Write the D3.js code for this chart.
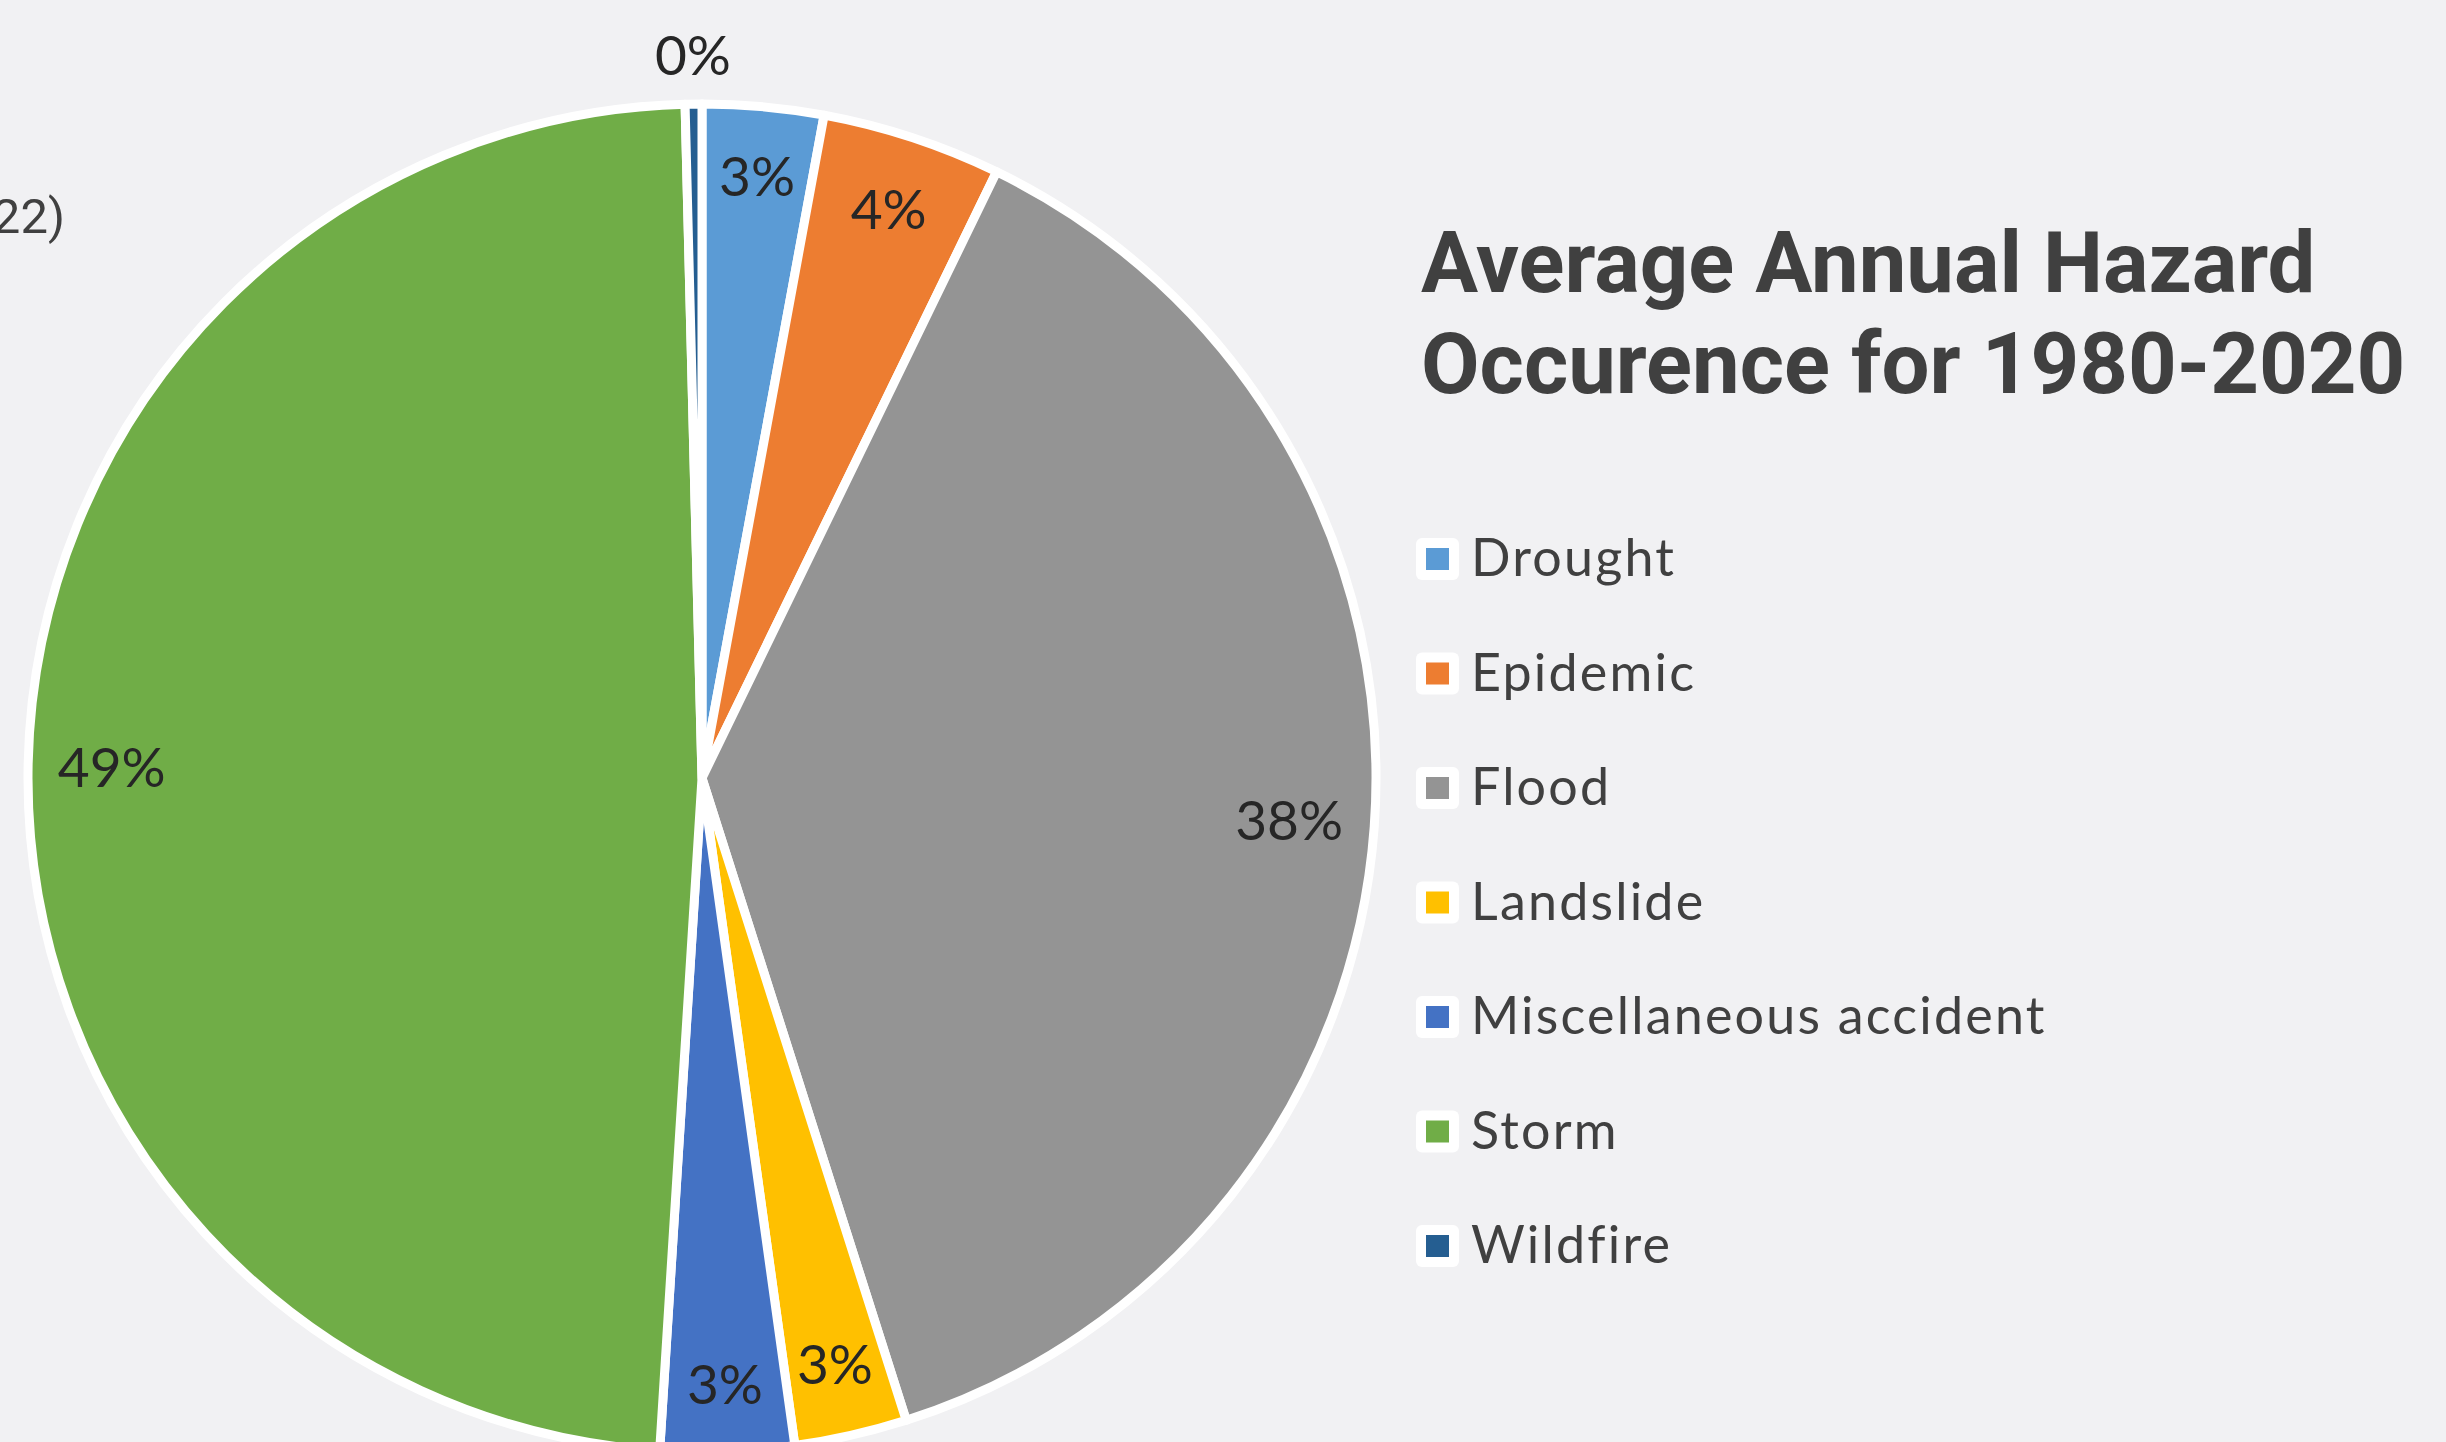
<!DOCTYPE html>
<html>
<head>
<meta charset="utf-8">
<script src="https://cdn.jsdelivr.net/npm/d3@7"></script>
<style>
  html, body { margin: 0; padding: 0; background: #f1f1f3; overflow: hidden; }
</style>
</head>
<body>
<div id="chart"></div>
<script>
// Hazard categories & their share of average annual occurrences (%)
const categories = ["Drought","Epidemic","Flood","Landslide","Miscellaneous accident","Storm","Wildfire"];
const shares = [2.9, 4.3, 37.9, 2.7, 3.2, 48.6, 0.4];
const sliceColors = ["#5b9bd5","#ed7d31","#949494","#ffc000","#4472c4","#70ad47","#255e91"];
const titleLines = ["Average Annual Hazard","Occurence for 1980-2020"];
const cutTitle = "(1980-2022)";

const width = 2446, height = 1442;
const cx = 702, cy = 778, radius = 674;

const svg = d3.select("#chart").append("svg")
  .attr("width", width)
  .attr("height", height)
  .style("display","block");

svg.append("rect").attr("width",width).attr("height",height).attr("fill","#f1f1f3");

// clipped title from the neighbouring chart (cut off at the left edge, as in the source)
svg.append("text")
  .attr("x", 65).attr("y", 233)
  .attr("text-anchor","end")
  .style("font-family","Roboto")
  .style("font-size","49px")
  .attr("fill","#404040")
  .text(cutTitle);

const total = d3.sum(shares);
const pct = d3.format(".0%");

const pie = d3.pie().sort(null).value(d => d);
const arcs = pie(shares);
const arc = d3.arc().innerRadius(0).outerRadius(radius);

const g = svg.append("g").attr("transform", `translate(${cx},${cy})`);

g.selectAll("path.slice")
  .data(arcs)
  .join("path")
  .attr("class","slice")
  .attr("d", arc)
  .attr("fill", (d,i) => sliceColors[i])
  .attr("stroke","#fff")
  .attr("stroke-width",9)
  .attr("stroke-linejoin","round");

// Data labels (best fit: inside near rim, outside if too thin)
const labelSize = 55, capH = labelSize * 0.72, boxH = labelSize * 1.35, pad = 28;
arcs.forEach((d,i) => {
  const a = (d.startAngle + d.endAngle) / 2;
  const sx = Math.sin(a), sy = -Math.cos(a);
  const t = g.append("text")
    .attr("text-anchor","middle")
    .style("font-family","Lato")
    .style("font-size", labelSize + "px")
    .attr("fill","#262626")
    .text(pct(shares[i] / total));
  const w = t.node().getComputedTextLength();
  let dist;
  if (shares[i] / total < 0.01) {
    dist = radius + 49;
  } else {
    // largest distance where the label box stays inside the rim
    let lo = 0, hi = radius;
    for (let k = 0; k < 40; k++) {
      const m = (lo + hi) / 2;
      const fx = Math.abs(m*sx) + w/2, fy = Math.abs(m*sy) + boxH/2;
      if (Math.hypot(fx, fy) <= radius - pad) lo = m; else hi = m;
    }
    dist = lo;
  }
  t.attr("x", dist*sx).attr("y", dist*sy + capH/2);
});

// Title
const title = svg.append("text")
  .style("font-family","Roboto")
  .style("font-weight","700")
  .style("font-size","85px")
  .attr("fill","#404040");
titleLines.forEach((line,i) => {
  title.append("tspan").attr("x",1421).attr("y",292 + i*101).text(line);
});

// Legend
const legendY = d3.scalePoint().domain(categories).range([559, 1246]);
const legend = svg.append("g");
categories.forEach((c,i) => {
  const y = legendY(c);
  legend.append("rect")
    .attr("x",1416).attr("y",y-21).attr("width",43).attr("height",42)
    .attr("rx",6).attr("fill","#fff");
  legend.append("rect")
    .attr("x",1426).attr("y",y-11).attr("width",23).attr("height",22)
    .attr("fill",sliceColors[i]);
  legend.append("text")
    .attr("x",1471).attr("y",y+17)
    .style("font-family","Lato")
    .style("font-size","52px")
    .style("letter-spacing","2.2px")
    .attr("fill","#404040")
    .text(c);
});
</script>
</body>
</html>
